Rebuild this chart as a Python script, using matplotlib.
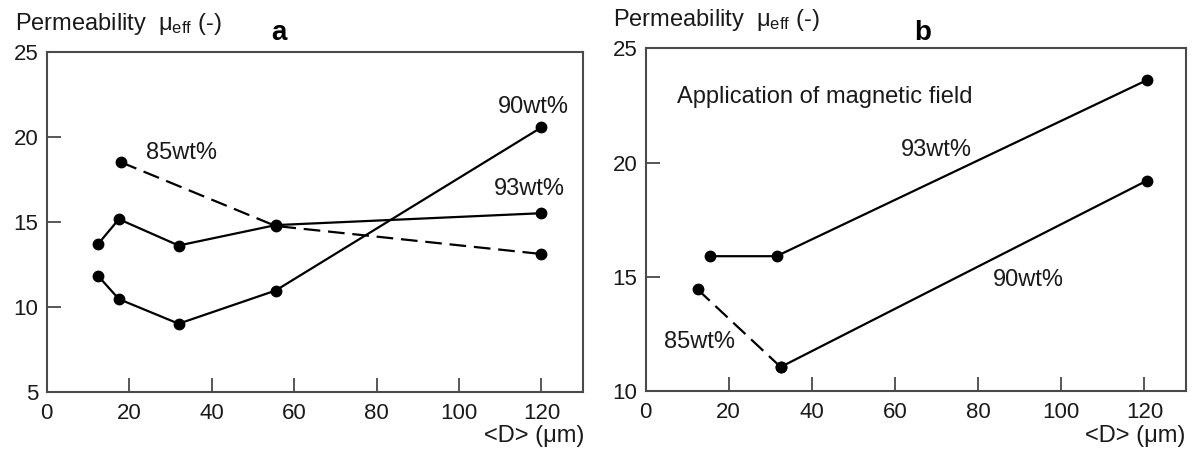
import matplotlib
matplotlib.use("Agg")
import matplotlib.pyplot as plt

plt.rcParams['font.family'] = ['Liberation Sans', 'DejaVu Sans']
plt.rcParams['mathtext.fontset'] = 'custom'
plt.rcParams['mathtext.rm'] = 'Liberation Sans'
plt.rcParams['mathtext.it'] = 'Liberation Sans'

# panel a (no field)
a_d90 = [12.5, 17.5, 32, 55.5, 120]
a_mu90 = [11.8, 10.45, 9.0, 10.95, 20.55]
a_d93 = [12.5, 17.5, 32, 55.5, 120]
a_mu93 = [13.7, 15.15, 13.6, 14.8, 15.5]
a_d85 = [18, 55.5, 120]
a_mu85 = [18.5, 14.75, 13.1]

# panel b (application of magnetic field)
b_d93 = [15.5, 31.5, 120.5]
b_mu93 = [15.9, 15.9, 23.6]
b_d90 = [32.5, 120.5]
b_mu90 = [11.05, 19.2]
b_d85 = [12.5, 32.5]
b_mu85 = [14.45, 11.05]

xticks = [0, 20, 40, 60, 80, 100, 120]
a_yticks = [5, 10, 15, 20, 25]
b_yticks = [10, 15, 20, 25]

TXT = '#1a1a1a'
SPINE = '#4a4a4a'

fig = plt.figure(figsize=(11.95, 4.54), dpi=100)
ax1 = fig.add_axes([0.0391, 0.1372, 0.4485, 0.7489])
ax2 = fig.add_axes([0.5402, 0.1388, 0.4523, 0.7548])


def style(ax, ylim, yticks):
    ax.set_xlim(0, 130)
    ax.set_ylim(*ylim)
    ax.set_xticks(xticks)
    ax.set_yticks(yticks)
    ax.tick_params(direction='in', length=10, width=1.3, color=SPINE,
                   labelsize=16, labelcolor=TXT)
    ax.tick_params(axis='x', pad=8)
    ax.tick_params(axis='y', pad=6)
    for s in ax.spines.values():
        s.set_color(SPINE)
        s.set_linewidth(1.5)


def series(ax, x, y, dashed=False):
    kw = dict(color='black', lw=1.6, marker='o', ms=7.5, mfc='black', mec='black')
    if dashed:
        kw['dashes'] = (7.5, 3.5)
    ax.plot(x, y, **kw)


series(ax1, a_d85, a_mu85, dashed=True)
series(ax1, a_d90, a_mu90)
series(ax1, a_d93, a_mu93)
style(ax1, (5, 25), a_yticks)
ax1.text(32.8, 19.05, '85wt%', fontsize=17, color=TXT, ha='center', va='center')
ax1.text(118, 21.75, '90wt%', fontsize=17, color=TXT, ha='center', va='center')
ax1.text(117, 16.9, '93wt%', fontsize=17, color=TXT, ha='center', va='center')

series(ax2, b_d85, b_mu85, dashed=True)
series(ax2, b_d90, b_mu90)
series(ax2, b_d93, b_mu93)
style(ax2, (10, 25), b_yticks)
ax2.text(7.5, 22.87, 'Application of magnetic field', fontsize=17, color=TXT,
         ha='left', va='center')
ax2.text(69.9, 20.57, '93wt%', fontsize=17, color=TXT, ha='center', va='center')
ax2.text(92.1, 14.84, '90wt%', fontsize=17, color=TXT, ha='center', va='center')
ax2.text(13.0, 12.16, '85wt%', fontsize=17, color=TXT, ha='center', va='center')

ylab = 'Permeability  \u03bc$_{\\mathrm{eff}}$ (-)'
fig.text(0.0126, 0.9339, ylab, fontsize=17, color=TXT, ha='left', va='baseline')
fig.text(0.5127, 0.9427, ylab, fontsize=17, color=TXT, ha='left', va='baseline')
fig.text(0.2335, 0.9119, 'a', fontsize=20, fontweight='bold', ha='center', va='baseline')
fig.text(0.772, 0.9119, 'b', fontsize=20, fontweight='bold', ha='center', va='baseline')
fig.text(0.4887, 0.0396, '<D> (\u03bcm)', fontsize=17, color=TXT, ha='right', va='center')
fig.text(0.9916, 0.0396, '<D> (\u03bcm)', fontsize=17, color=TXT, ha='right', va='center')

fig.savefig('out.png', dpi=100)
